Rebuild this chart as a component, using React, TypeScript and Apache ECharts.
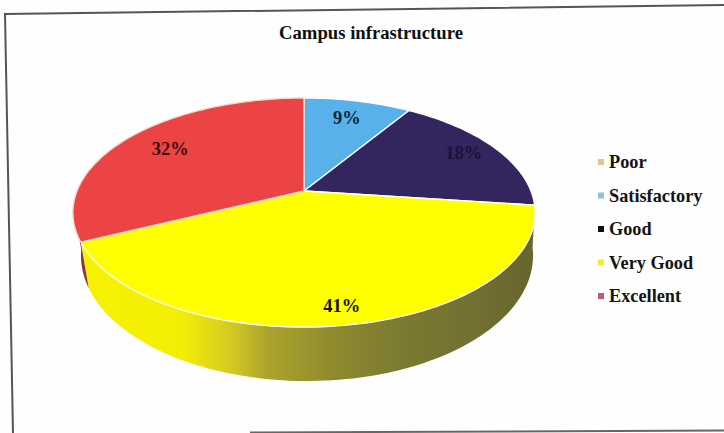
import React, { useEffect, useRef } from "react";
import * as echarts from "echarts";

const titleText = "Campus infrastructure";
const categories = ["Poor", "Satisfactory", "Good", "Very Good", "Excellent"];
const percentages = [0, 9, 18, 41, 32];
const faceColors = ["#d9c48a", "#58b1e9", "#33265f", "#ffff00", "#ec4444"];
const legendColors = ["#dcc795", "#8fc1dd", "#0d0d14", "#eef22e", "#c9566f"];
const labelColors = ["#111", "#0d2238", "#17123a", "#15150a", "#3d0c10"];
const labelRadii = [0.8, 0.77, 0.83, 0.89, 0.75];

const SERIF = '"Liberation Serif", "Times New Roman", serif';

// Projection of the pie disc: a circle seen in perspective.
const PERSPECTIVE = 0.188;
const TOP = { cx: 304, cy: 191, rx: 227, ry: 110.5 };
const BOTTOM = { cx: 307, cy: 232, rx: 222, ry: 121 };

type Ring = typeof TOP;
const project = (ring: Ring, deg: number, r = 1): number[] => {
  const t = (deg * Math.PI) / 180;
  const u = Math.sin(t) * r;
  const v = Math.cos(t) * r;
  const w = 1 + PERSPECTIVE * v;
  return [ring.cx + (ring.rx * u) / w, ring.cy - (ring.ry * v) / w];
};

const arc = (ring: Ring, a0: number, a1: number): number[][] => {
  const n = Math.max(2, Math.ceil(Math.abs(a1 - a0) / 1.5));
  const pts: number[][] = [];
  for (let i = 0; i <= n; i++) pts.push(project(ring, a0 + ((a1 - a0) * i) / n));
  return pts;
};

const wallGradient = () =>
  new echarts.graphic.LinearGradient(0, 0, 1, 0, [
    { offset: 0, color: "#f6f200" },
    { offset: 0.22, color: "#f4ee06" },
    { offset: 0.33, color: "#d4ca22" },
    { offset: 0.41, color: "#aca42c" },
    { offset: 0.555, color: "#8e8b2e" },
    { offset: 0.7, color: "#7c7b30" },
    { offset: 0.88, color: "#716f32" },
    { offset: 1, color: "#66652c" },
  ]);

const FRONT_END = 262; // where the wall disappears behind the left edge

const sliceRenderer = (index: number) => (_params: any, api: any) => {
  const start = api.value(0) as number;
  const end = api.value(1) as number;
  const value = api.value(2) as number;
  if (!(value > 0)) return { type: "group", children: [] };
  const children: any[] = [];

  // Side wall: only the front half of the disc shows it.
  const wallStart = Math.max(start, 97);
  const wallEnd = Math.min(end, FRONT_END);
  if (wallEnd > wallStart) {
    const pts = [...arc(TOP, wallStart, wallEnd), ...arc(BOTTOM, wallEnd, wallStart)];
    children.push({
      type: "polygon",
      shape: { points: pts },
      style: {
        fill: index === 3 ? wallGradient() : "#8c3434",
        stroke: "none",
      },
    });
  }

  // Top face.
  const facePts = [[TOP.cx, TOP.cy], ...arc(TOP, start, end)];
  children.push({
    type: "polygon",
    shape: { points: facePts },
    style: {
      fill: faceColors[index],
      stroke: index === 4 ? "#f6d8c8" : "#ffffff",
      lineWidth: 1.4,
      lineJoin: "round",
    },
  });

  // Label at the middle of the slice.
  const [lx, ly] = project(TOP, (start + end) / 2, labelRadii[index]);
  children.push({
    type: "text",
    z2: 10,
    style: {
      x: lx,
      y: ly - 1,
      text: `${value}%`,
      fill: labelColors[index],
      font: `bold 18.5px ${SERIF}`,
      align: "center",
      verticalAlign: "middle",
    },
  });
  return { type: "group", children };
};

export default function App() {
  const ref = useRef<HTMLDivElement>(null);
  useEffect(() => {
    document.body.style.margin = "0";
    const chart = echarts.init(ref.current!, undefined, { renderer: "svg" });
    const total = percentages.reduce((a, b) => a + b, 0);
    let acc = 0;
    const series = categories.map((name, i) => {
      const start = (acc / total) * 360;
      acc += percentages[i];
      const end = (acc / total) * 360;
      return {
        type: "custom" as const,
        name,
        coordinateSystem: "none",
        itemStyle: { color: faceColors[i] },
        renderItem: sliceRenderer(i),
        silent: true,
        data: [[start, end, percentages[i]]],
      };
    });
    chart.setOption({
      animation: false,
      backgroundColor: "#fefefe",
      title: {
        text: titleText,
        left: 279,
        top: 23,
        padding: 0,
        textStyle: {
          fontFamily: SERIF,
          fontWeight: "bold",
          fontSize: 18.7,
          color: "#101010",
        },
      },
      legend: {
        orient: "vertical",
        left: 598,
        top: 153,
        padding: 0,
        itemWidth: 6,
        itemHeight: 6,
        itemGap: 15.5,
        icon: "rect",
        selectedMode: false,
        textStyle: {
          fontFamily: SERIF,
          fontWeight: "bold",
          fontSize: 18.3,
          lineHeight: 18,
          color: "#141414",
        },
        data: categories.map((name, i) => ({
          name,
          itemStyle: { color: legendColors[i] },
        })),
      },
      graphic: [
        {
          type: "polyline",
          silent: true,
          shape: { points: [[13, 433], [5, 14], [724, 5]] },
          style: { stroke: "#555555", lineWidth: 2, fill: "none" },
        },
        {
          type: "line",
          silent: true,
          shape: { x1: 250, y1: 432.5, x2: 724, y2: 430.5 },
          style: { stroke: "#666666", lineWidth: 2 },
        },
      ],
      series,
    });
    return () => chart.dispose();
  }, []);
  return (
    <div
      ref={ref}
      style={{ position: "absolute", left: 0, top: 0, width: 724, height: 433 }}
    />
  );
}
